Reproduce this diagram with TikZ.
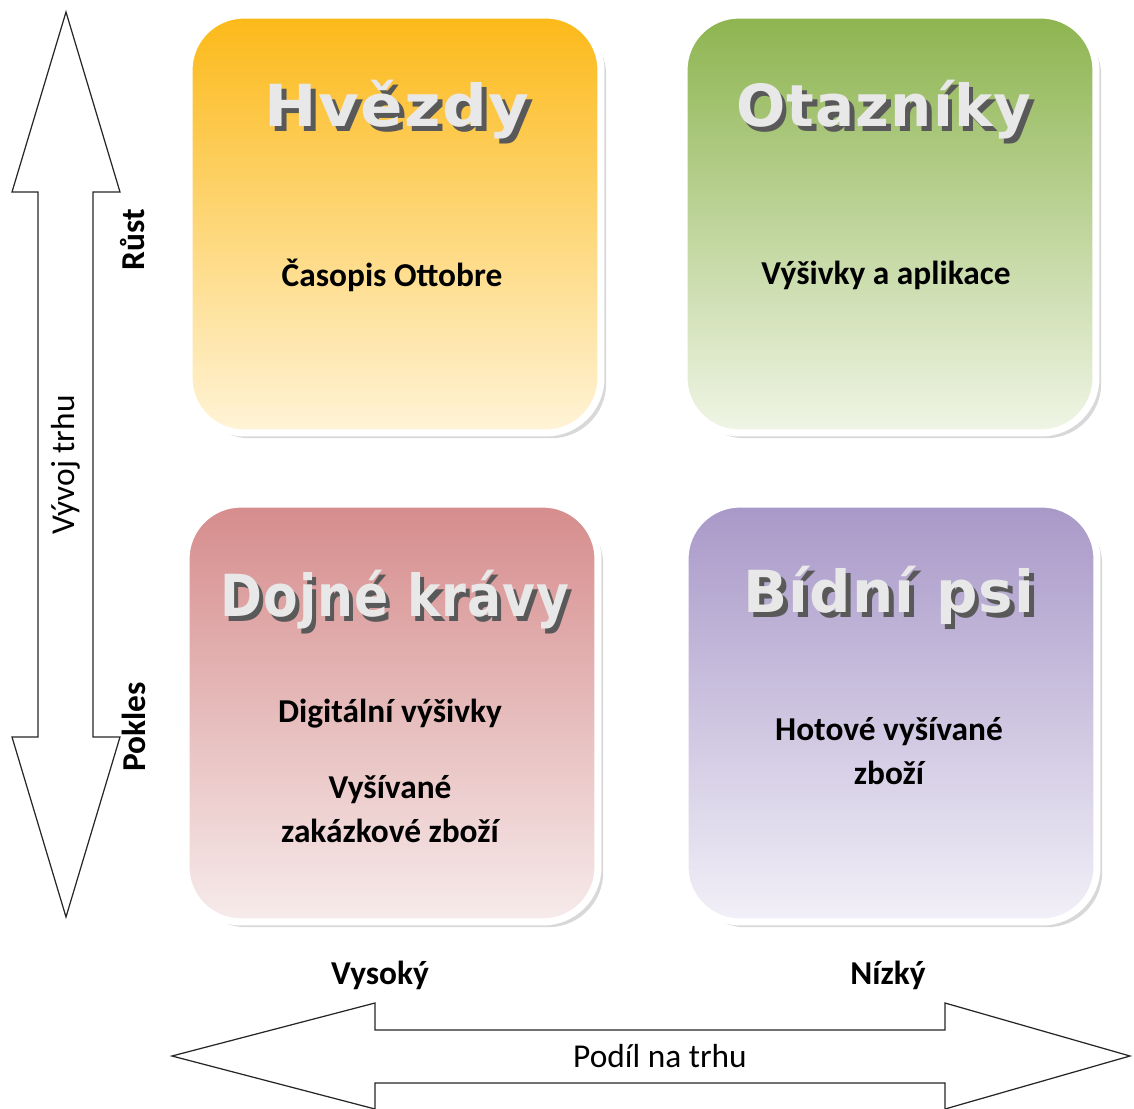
\documentclass[tikz,border=0pt]{standalone}
\usepackage{fontspec}
\setmainfont{Carlito}
\newfontfamily\titlefont[LetterSpace=2]{DejaVu Sans}
\usetikzlibrary{shadows}
\definecolor{orangetop}{HTML}{FCB918}
\definecolor{orangebot}{HTML}{FFF4D8}
\definecolor{greentop}{HTML}{8DB44F}
\definecolor{greenbot}{HTML}{F0F5E6}
\definecolor{redtop}{HTML}{D68C8C}
\definecolor{redbot}{HTML}{F7EBEB}
\definecolor{violettop}{HTML}{A898C8}
\definecolor{violetbot}{HTML}{F2F0F8}
\newcommand\embossed[1]{\makebox[0pt][l]{\kern2.6pt\raisebox{-3.2pt}{\color{black!65}#1}}#1}
\tikzset{
	box/.style={rounded corners=1.1cm, minimum width=8.24cm, minimum height=8.36cm,
		draw=white, line width=4pt,
		drop shadow={shadow xshift=3pt, shadow yshift=-3pt, fill=gray!60}},
	item/.style={font=\bfseries\fontsize{19}{25}\selectfont, align=center},
	title/.style={font=\titlefont\bfseries\fontsize{33}{40}\selectfont, text=gray!18},
	axis/.style={font=\fontsize{19}{22}\selectfont},
	axisbold/.style={font=\bfseries\fontsize{19}{22}\selectfont},
	bigarrow/.style={draw=black!85, line width=0.7pt, fill=white}
}
\begin{document}
\begin{tikzpicture}[x=0.02cm, y=-0.02cm]
	\useasboundingbox (0,0) rectangle (1134,1109);
	% quadrants
	\node[box, top color=orangetop, bottom color=orangebot] (hvezdy) at (395,224) {};
	\node[box, top color=greentop, bottom color=greenbot] (otazniky) at (890,224) {};
	\node[box, top color=redtop, bottom color=redbot] (dojne) at (392,713) {};
	\node[box, top color=violettop, bottom color=violetbot] (psi) at (891,713) {};
	% titles
	\node[title] (hvezdy-t) at (397,112) {\scalebox{1.08}[1]{\embossed{Hvězdy}}};
	\node[title] (otazniky-t) at (884,112) {\embossed{Otazníky}};
	\node[title] (dojne-t) at (395,602) {\scalebox{0.87}[1]{\embossed{Dojné krávy}}};
	\node[title] (psi-t) at (889,598) {\embossed{Bídní psi}};
	% items
	\node[item] (casopis) at (392,275) {Časopis Ottobre};
	\node[item] (vysivky) at (886,275) {Výšivky a aplikace};
	\node[item] (digital) at (390,714) {Digitální výšivky};
	\node[item] (zakazka) at (390,809) {Vyšívané\\zakázkové zboží};
	\node[item] (hotove) at (889,751) {Hotové vyšívané\\zboží};
	% axes
	\draw[bigarrow] (66,12) -- (120,192) -- (93,192) -- (93,737) -- (120,737) -- (66,917)
		-- (12,737) -- (38,737) -- (38,192) -- (12,192) -- cycle;
	\draw[bigarrow] (172,1056) -- (375,1003) -- (375,1030) -- (945,1030) -- (945,1003) -- (1130,1056)
		-- (945,1109) -- (945,1083) -- (375,1083) -- (375,1109) -- cycle;
	\node[axis, rotate=90] (vyvoj) at (66,465) {Vývoj trhu};
	\node[axisbold, rotate=90] (rust) at (133,240) {Růst};
	\node[axisbold, rotate=90] (pokles) at (134,727) {Pokles};
	\node[axis] (podil) at (660,1056) {Podíl na trhu};
	\node[axisbold] (vysoky) at (380,975) {Vysoký};
	\node[axisbold] (nizky) at (888,975) {Nízký};
\end{tikzpicture}
\end{document}
